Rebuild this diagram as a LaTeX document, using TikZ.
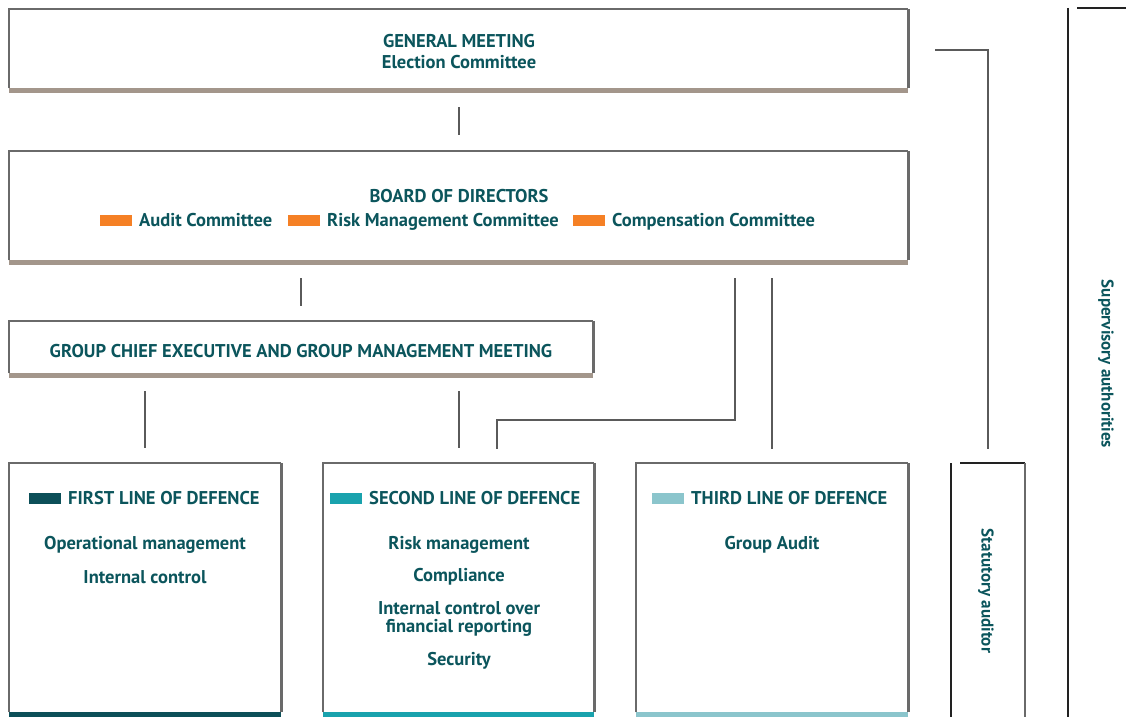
\documentclass[tikz,border=0pt]{standalone}
\usepackage{fontspec}
\setmainfont{PT Sans}
\usetikzlibrary{positioning,calc}

\definecolor{tealtext}{HTML}{0B555C}
\definecolor{framegrey}{HTML}{6A6A6A}
\definecolor{linkgrey}{HTML}{5A5A5A}
\definecolor{bartaupe}{HTML}{A3968B}
\definecolor{keyorange}{HTML}{F58025}
\definecolor{lineone}{HTML}{0C4F58}
\definecolor{linetwo}{HTML}{19A2AD}
\definecolor{linethree}{HTML}{8BC5CC}
\definecolor{outerline}{HTML}{222222}

\begin{document}
\begin{tikzpicture}[
  x=1pt, y=-1pt,
  node distance=7pt,
  every node/.style={font=\bfseries\fontsize{18.5}{18}\selectfont, text=tealtext},
  panel/.style 2 args={anchor=north west, inner sep=0pt, minimum width=#1, minimum height=#2},
  frame/.style={draw=framegrey, line width=1.5pt},
  link/.style={draw=linkgrey, line width=2pt},
  key/.style={fill=#1, minimum width=32pt, minimum height=11pt, inner sep=0pt},
  keytext/.style={anchor=west, inner sep=0pt, text height=13pt, text depth=0pt},
  item/.style={align=center, inner sep=0pt, yshift=-2pt},
  sidelabel/.style={rotate=-90, font=\bfseries\fontsize{17}{18}\selectfont}
]
  \useasboundingbox (0,0) rectangle (1126,717);

  % panels
  \node (gm) [panel={899pt}{79pt}] at (9,9) {};
  \node (board) [panel={899pt}{109pt}] at (9,151) {};
  \node (gce) [panel={584pt}{52pt}] at (9,321) {};
  \node (first) [panel={272pt}{249pt}] at (9,463) {};
  \node (second) [panel={271pt}{249pt}] at (323,463) {};
  \node (third) [panel={272pt}{249pt}] at (636,463) {};
  \node (statutory) [panel={74pt}{254pt}] at (951,463) {};
  \node (supervisory) [panel={58pt}{709pt}] at (1068,8) {};

  \foreach \p/\c in {gm/bartaupe, board/bartaupe, gce/bartaupe, first/lineone, second/linetwo, third/linethree}{
    \draw[frame] (\p.south west) -- (\p.north west) -- (\p.north east);
    \draw[frame, line width=2.5pt] (\p.north east) -- (\p.south east);
    \fill[\c] (\p.south west) rectangle ($(\p.south east)+(0,5)$);
  }

  % open frames on the right
  \draw[draw=outerline, line width=2.5pt] (statutory.north west) -- (statutory.south west);
  \draw[draw=outerline, line width=1.5pt] ($(statutory.north west)+(9,0)$) -- (statutory.north east);
  \draw[frame, line width=2pt] (statutory.north east) -- (statutory.south east);
  \draw[draw=outerline, line width=2.5pt] (supervisory.north west) -- (supervisory.south west);
  \draw[draw=outerline, line width=1.5pt] ($(supervisory.north west)+(9,0)$) -- (supervisory.north east);

  % texts
  \node (gmtitle) [item, font=\bfseries\fontsize{18.5}{21}\selectfont] at (459,50) {GENERAL MEETING\\Election Committee};
  \node (boardtitle) [item] at (459,194) {BOARD OF DIRECTORS};

  \node (audit) [keytext] at (139,220) {Audit Committee};
  \node (auditkey) [key=keyorange, left=of audit] {};
  \node (risk) [keytext] at (327,220) {Risk Management Committee};
  \node (riskkey) [key=keyorange, left=of risk] {};
  \node (comp) [keytext] at (612,220) {Compensation Committee};
  \node (compkey) [key=keyorange, left=of comp] {};

  \node (gcetitle) [item] at (301,349) {GROUP CHIEF EXECUTIVE AND GROUP MANAGEMENT MEETING};

  \node (firsthead) [keytext] at (68,498) {FIRST LINE OF DEFENCE};
  \node (firstkey) [key=lineone, left=of firsthead] {};
  \node (opmgmt) [item] at (145,543) {Operational management};
  \node (intctrl) [item] at (145,575) {Internal control};

  \node (secondhead) [keytext] at (369,498) {SECOND LINE OF DEFENCE};
  \node (secondkey) [key=linetwo, left=of secondhead] {};
  \node (riskmgmt) [item] at (459,543) {Risk management};
  \node (compliance) [item] at (459,575) {Compliance};
  \node (icfr) [item] at (459,617) {Internal control over\\financial reporting};
  \node (security) [item] at (459,659) {Security};

  \node (thirdhead) [keytext] at (691,498) {THIRD LINE OF DEFENCE};
  \node (thirdkey) [key=linethree, left=of thirdhead] {};
  \node (groupaudit) [item] at (772,543) {Group Audit};

  \node (statlabel) [sidelabel] at (986,591) {Statutory auditor};
  \node (suplabel) [sidelabel] at (1106,364) {Supervisory authorities};

  % connectors
  \draw[link, shorten <=19pt, shorten >=16pt] (gm.south) -- (board.north);
  \draw[link, shorten <=18pt, shorten >=15pt] (board.south -| gce.north) -- (gce.north);
  \draw[link, shorten <=18pt, shorten >=15pt] (gce.south -| first.north) -- (first.north);
  \draw[link, shorten <=18pt, shorten >=15pt] (gce.south -| second.north) -- (second.north);
  \draw[link, shorten <=18pt, shorten >=14pt] (board.south -| third.north) -- (third.north);
  \coordinate (boardtap) at (735,278);
  \coordinate (secondtap) at (497,449);
  \draw[link] (boardtap) -- ++(0,142) -| (secondtap);
  \coordinate (gmtap) at (935,50);
  \draw[link, shorten >=14pt] (gmtap) -| (statutory.north);
\end{tikzpicture}
\end{document}
